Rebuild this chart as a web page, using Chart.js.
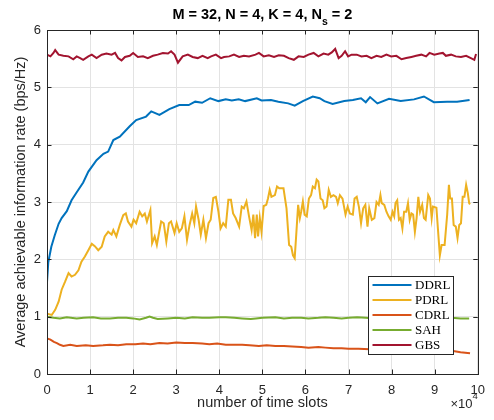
<!DOCTYPE html>
<html>
<head>
<meta charset="utf-8">
<script src="https://cdn.jsdelivr.net/npm/chart.js@4"></script>
<style>
  html, body { margin: 0; padding: 0; background: #fff; }
</style>
</head>
<body>
<canvas id="chart" width="494" height="420"></canvas>
<script>
// values, x in units of 10^4 time slots
const seriesNames = ["DDRL", "PDRL", "CDRL", "SAH", "GBS"];
const seriesColors = ["#0072BD", "#EDB120", "#D95319", "#77AC30", "#A2142F"];
const xTickValues = [0, 1, 2, 3, 4, 5, 6, 7, 8, 9, 10];
const yTickValues = [0, 1, 2, 3, 4, 5, 6];

const ddrl = [[0, 1.6], [0.03, 1.95], [0.1, 2.22], [0.18, 2.42], [0.27, 2.62], [0.34, 2.72], [0.46, 2.84],
  [0.57, 3.03], [0.69, 3.17], [0.84, 3.34], [0.96, 3.53], [1.15, 3.73], [1.31, 3.84], [1.42, 3.88],
  [1.54, 4.08], [1.69, 4.14], [1.92, 4.32], [2.07, 4.43], [2.3, 4.49], [2.42, 4.58], [2.61, 4.52],
  [2.84, 4.62], [3.07, 4.69], [3.29, 4.69], [3.44, 4.75], [3.6, 4.73], [3.79, 4.81], [3.98, 4.76],
  [4.15, 4.79], [4.29, 4.77], [4.45, 4.79], [4.6, 4.76], [4.87, 4.81], [4.98, 4.77], [5.2, 4.78],
  [5.37, 4.75], [5.6, 4.72], [5.75, 4.68], [5.94, 4.76], [6.17, 4.84], [6.33, 4.81], [6.44, 4.76],
  [6.63, 4.71], [6.9, 4.76], [7.1, 4.78], [7.29, 4.81], [7.4, 4.74], [7.5, 4.83], [7.67, 4.72],
  [7.94, 4.8], [8.21, 4.76], [8.52, 4.79], [8.75, 4.84], [8.98, 4.74], [9.29, 4.75], [9.52, 4.75],
  [9.81, 4.78]];

const pdrl = [[0, 1.05], [0.11, 1.03], [0.19, 1.12], [0.27, 1.26], [0.34, 1.47], [0.42, 1.61], [0.5, 1.76],
  [0.57, 1.7], [0.65, 1.73], [0.73, 1.81], [0.8, 1.96], [0.88, 2.05], [0.96, 2.16], [1.04, 2.27],
  [1.11, 2.23], [1.19, 2.16], [1.27, 2.22], [1.34, 2.4], [1.42, 2.48], [1.5, 2.43], [1.54, 2.51],
  [1.61, 2.4], [1.69, 2.6], [1.77, 2.77], [1.83, 2.8], [1.88, 2.66], [1.96, 2.57], [2.01, 2.69],
  [2.07, 2.63], [2.15, 2.83], [2.21, 2.75], [2.27, 2.8], [2.32, 2.66], [2.4, 2.86], [2.44, 2.28],
  [2.5, 2.4], [2.55, 2.25], [2.6, 2.46], [2.65, 2.66], [2.71, 2.63], [2.77, 2.31], [2.83, 2.63],
  [2.88, 2.66], [2.96, 2.46], [3.01, 2.63], [3.07, 2.48], [3.13, 2.54], [3.19, 2.75], [3.25, 2.34],
  [3.31, 2.6], [3.37, 2.8], [3.42, 2.63], [3.46, 2.92], [3.52, 2.69], [3.57, 2.43], [3.63, 2.69],
  [3.69, 2.37], [3.75, 2.63], [3.8, 2.69], [3.86, 3.07], [3.92, 3.09], [3.98, 2.83], [4.03, 2.54],
  [4.09, 2.63], [4.15, 2.57], [4.21, 3.04], [4.27, 3.04], [4.32, 2.8], [4.38, 2.72], [4.46, 2.57],
  [4.52, 2.92], [4.57, 2.89], [4.63, 3.01], [4.69, 2.75], [4.75, 2.51], [4.79, 2.78], [4.83, 2.37],
  [4.87, 2.78], [4.9, 2.4], [4.94, 2.72], [4.98, 2.48], [5.03, 2.93], [5.09, 2.95], [5.13, 3.06],
  [5.17, 3.21], [5.21, 3.09], [5.29, 3.12], [5.34, 3.27], [5.39, 3.24], [5.49, 3.24], [5.56, 2.89],
  [5.62, 2.25], [5.67, 2.22], [5.71, 2.07], [5.75, 2.02], [5.79, 2.48], [5.83, 2.95], [5.87, 2.72],
  [5.9, 2.83], [5.94, 3.01], [5.98, 2.78], [6.03, 2.75], [6.08, 3.06], [6.13, 3.12], [6.17, 3.27],
  [6.22, 3.24], [6.26, 3.39], [6.3, 3.36], [6.35, 3.06], [6.4, 3.03], [6.44, 2.89], [6.49, 2.92],
  [6.54, 3.21], [6.59, 3.09], [6.65, 3.12], [6.71, 3.09], [6.75, 2.98], [6.8, 3.12], [6.86, 3.06],
  [6.93, 2.78], [6.98, 2.92], [7.03, 2.8], [7.1, 2.78], [7.14, 3.06], [7.19, 3.09], [7.24, 2.92],
  [7.29, 2.63], [7.34, 2.89], [7.39, 2.95], [7.44, 2.57], [7.48, 2.89], [7.54, 2.69], [7.6, 2.72],
  [7.65, 3.0], [7.7, 2.95], [7.74, 3.12], [7.77, 2.98], [7.83, 2.95], [7.88, 2.83], [7.93, 2.75],
  [7.98, 2.69], [8.02, 2.83], [8.06, 2.75], [8.09, 2.98], [8.13, 3.03], [8.17, 2.69], [8.21, 2.72],
  [8.25, 2.54], [8.29, 2.83], [8.34, 2.83], [8.38, 2.98], [8.42, 2.69], [8.46, 2.8], [8.5, 2.78],
  [8.54, 2.48], [8.58, 2.72], [8.62, 3.09], [8.66, 2.83], [8.71, 2.95], [8.75, 2.72], [8.79, 2.69],
  [8.85, 3.12], [8.89, 3.06], [8.93, 2.72], [8.96, 2.92], [9.04, 2.9], [9.08, 2.48], [9.12, 2.07],
  [9.16, 2.25], [9.23, 2.25], [9.29, 2.78], [9.33, 3.3], [9.36, 3.06], [9.4, 3.06], [9.44, 2.6],
  [9.49, 2.57], [9.53, 2.37], [9.57, 2.6], [9.61, 2.63], [9.65, 3.09], [9.69, 3.09], [9.73, 3.3],
  [9.77, 3.15], [9.8, 2.98], [9.82, 2.96]];

const cdrl = [[0, 0.62], [0.08, 0.6], [0.16, 0.56], [0.23, 0.54], [0.3, 0.51], [0.38, 0.49], [0.54, 0.51],
  [0.69, 0.49], [0.9, 0.5], [1.07, 0.49], [1.3, 0.5], [1.46, 0.51], [1.65, 0.5], [1.84, 0.52],
  [2.05, 0.52], [2.23, 0.53], [2.4, 0.52], [2.61, 0.54], [2.8, 0.53], [3.0, 0.55], [3.2, 0.54],
  [3.38, 0.54], [3.6, 0.53], [3.77, 0.52], [3.95, 0.53], [4.15, 0.51], [4.35, 0.51], [4.53, 0.51],
  [4.7, 0.5], [4.92, 0.49], [5.1, 0.5], [5.3, 0.49], [5.5, 0.49], [5.69, 0.48], [5.9, 0.47],
  [6.07, 0.46], [6.3, 0.47], [6.46, 0.46], [6.65, 0.45], [6.84, 0.45], [7.0, 0.44], [7.23, 0.44],
  [7.5, 0.43], [7.8, 0.43], [8.0, 0.42], [8.3, 0.42], [8.6, 0.41], [9.0, 0.41], [9.36, 0.41],
  [9.6, 0.38], [9.82, 0.36]];

const sah = [[0, 1.0], [0.15, 0.98], [0.3, 0.97], [0.46, 0.99], [0.69, 0.97], [0.85, 0.98], [1.07, 0.99],
  [1.25, 0.97], [1.46, 0.97], [1.65, 0.98], [1.84, 0.98], [2.0, 0.97], [2.15, 0.95], [2.3, 0.98],
  [2.38, 1.0], [2.46, 0.98], [2.57, 0.96], [2.8, 0.97], [3.0, 0.98], [3.2, 0.97], [3.38, 0.99],
  [3.6, 0.98], [3.77, 0.98], [4.0, 0.99], [4.15, 0.99], [4.35, 0.98], [4.53, 0.97], [4.73, 0.96],
  [4.85, 0.97], [5.0, 0.98], [5.3, 0.99], [5.5, 0.97], [5.69, 0.98], [5.9, 0.98], [6.07, 0.97],
  [6.3, 0.98], [6.46, 0.99], [6.65, 0.98], [6.84, 0.97], [7.0, 0.98], [7.2, 0.99], [7.4, 0.98],
  [7.6, 0.97], [7.8, 0.98], [8.0, 0.99], [8.2, 0.98], [8.4, 0.97], [8.6, 0.98], [8.8, 0.98],
  [9.0, 0.97], [9.2, 0.98], [9.4, 0.98], [9.6, 0.97], [9.8, 0.97]];

const gbs = [[0, 5.57], [0.08, 5.54], [0.15, 5.6], [0.19, 5.65], [0.27, 5.57], [0.38, 5.55], [0.5, 5.54],
  [0.61, 5.49], [0.69, 5.54], [0.77, 5.51], [0.84, 5.48], [0.96, 5.54], [1.04, 5.57], [1.15, 5.51],
  [1.27, 5.57], [1.38, 5.59], [1.5, 5.57], [1.58, 5.6], [1.65, 5.51], [1.73, 5.47], [1.81, 5.53],
  [1.92, 5.55], [2.0, 5.6], [2.11, 5.53], [2.23, 5.54], [2.34, 5.51], [2.46, 5.55], [2.57, 5.57],
  [2.69, 5.6], [2.81, 5.59], [2.88, 5.63], [2.96, 5.57], [3.04, 5.43], [3.15, 5.54], [3.27, 5.57],
  [3.38, 5.53], [3.5, 5.51], [3.61, 5.55], [3.73, 5.51], [3.81, 5.54], [3.92, 5.57], [4.04, 5.51],
  [4.11, 5.53], [4.23, 5.54], [4.34, 5.57], [4.46, 5.53], [4.57, 5.55], [4.69, 5.54], [4.84, 5.57],
  [4.92, 5.6], [5.03, 5.54], [5.15, 5.56], [5.27, 5.53], [5.38, 5.56], [5.5, 5.55], [5.61, 5.51],
  [5.73, 5.48], [5.84, 5.54], [5.96, 5.53], [6.07, 5.57], [6.19, 5.6], [6.3, 5.54], [6.42, 5.59],
  [6.53, 5.57], [6.61, 5.61], [6.69, 5.67], [6.77, 5.51], [6.84, 5.55], [6.92, 5.63], [6.99, 5.54],
  [7.07, 5.57], [7.19, 5.57], [7.3, 5.54], [7.42, 5.55], [7.53, 5.51], [7.65, 5.55], [7.76, 5.53],
  [7.88, 5.57], [7.99, 5.54], [8.11, 5.55], [8.23, 5.49], [8.34, 5.51], [8.46, 5.53], [8.57, 5.55],
  [8.69, 5.57], [8.8, 5.54], [8.88, 5.6], [8.99, 5.57], [9.11, 5.59], [9.19, 5.6], [9.26, 5.55],
  [9.38, 5.57], [9.49, 5.54], [9.61, 5.53], [9.73, 5.55], [9.84, 5.51], [9.92, 5.48], [9.96, 5.58]];

const seriesData = [ddrl, pdrl, cdrl, sah, gbs];

const axisColor = "#262626";
const sansFont = "'Liberation Sans', Arial, sans-serif";
const serifFont = "'Liberation Serif', 'Times New Roman', serif";

// title with a subscript, drawn by hand since Chart.js titles are plain strings
const titlePlugin = {
  id: "subTitle",
  afterDraw(chart) {
    const ctx = chart.ctx;
    const area = chart.chartArea;
    const head = "M = 32, N = 4, K = 4, N";
    const sub = "s";
    const tail = " = 2";
    ctx.save();
    ctx.fillStyle = "#000";
    ctx.textBaseline = "alphabetic";
    ctx.textAlign = "left";
    ctx.font = "bold 14.5px " + sansFont;
    const w1 = ctx.measureText(head).width;
    const w3 = ctx.measureText(tail).width;
    ctx.font = "bold 10.5px " + sansFont;
    const w2 = ctx.measureText(sub).width;
    let x = (area.left + area.right) / 2 - (w1 + w2 + w3) / 2;
    ctx.font = "bold 14.5px " + sansFont;
    ctx.fillText(head, x, 18.5);
    x += w1;
    ctx.font = "bold 10.5px " + sansFont;
    ctx.fillText(sub, x, 24.5);
    x += w2;
    ctx.font = "bold 14.5px " + sansFont;
    ctx.fillText(tail, x, 18.5);
    ctx.restore();
  }
};

// box, inward tick marks, exponent label and legend
const framePlugin = {
  id: "frame",
  afterDatasetsDraw(chart) {
    const ctx = chart.ctx;
    const { left, right, top, bottom } = chart.chartArea;
    const xScale = chart.scales.x;
    const yScale = chart.scales.y;
    const tickLen = 4.5;
    ctx.save();
    ctx.strokeStyle = axisColor;
    ctx.lineWidth = 1;
    ctx.beginPath();
    xTickValues.forEach((v) => {
      const px = Math.round(xScale.getPixelForValue(v)) + 0.5;
      ctx.moveTo(px, bottom);
      ctx.lineTo(px, bottom - tickLen);
      ctx.moveTo(px, top);
      ctx.lineTo(px, top + tickLen);
    });
    yTickValues.forEach((v) => {
      const py = Math.round(yScale.getPixelForValue(v)) + 0.5;
      ctx.moveTo(left, py);
      ctx.lineTo(left + tickLen, py);
      ctx.moveTo(right, py);
      ctx.lineTo(right - tickLen, py);
    });
    ctx.stroke();
    ctx.strokeRect(Math.round(left) + 0.5, Math.round(top) + 0.5, Math.round(right - left), Math.round(bottom - top));

    // x10^4 exponent
    ctx.fillStyle = axisColor;
    ctx.textBaseline = "alphabetic";
    ctx.textAlign = "left";
    ctx.font = "13px " + sansFont;
    const wTimes = ctx.measureText("\u00d710").width;
    ctx.font = "9.5px " + sansFont;
    const wExp = ctx.measureText("4").width;
    const ex = right - wTimes - wExp;
    ctx.font = "13px " + sansFont;
    ctx.fillText("\u00d710", ex, 408);
    ctx.font = "9.5px " + sansFont;
    ctx.fillText("4", ex + wTimes, 398.5);

    // legend box in the lower right corner
    const boxX = 368.5, boxY = 276.5, boxW = 85, boxH = 78;
    ctx.fillStyle = "#fff";
    ctx.fillRect(boxX, boxY, boxW, boxH);
    ctx.strokeStyle = axisColor;
    ctx.strokeRect(boxX, boxY, boxW, boxH);
    ctx.font = "13px " + serifFont;
    ctx.textBaseline = "middle";
    chart.data.datasets.forEach((ds, i) => {
      const rowY = 285 + i * 15;
      ctx.strokeStyle = ds.borderColor;
      ctx.lineWidth = 2;
      ctx.beginPath();
      ctx.moveTo(372.5, rowY);
      ctx.lineTo(411.5, rowY);
      ctx.stroke();
      ctx.fillStyle = "#000";
      ctx.fillText(ds.label, 415, rowY + 0.5);
    });
    ctx.restore();
  }
};

new Chart(document.getElementById("chart"), {
  type: "line",
  data: {
    datasets: seriesData.map((points, index) => ({
      label: seriesNames[index],
      data: points.map(([x, y]) => ({ x, y })),
      borderColor: seriesColors[index],
      backgroundColor: seriesColors[index],
      borderWidth: 2,
      pointRadius: 0,
      tension: 0,
      fill: false,
      order: seriesNames.length - index
    }))
  },
  options: {
    responsive: false,
    animation: false,
    devicePixelRatio: 1,
    layout: { padding: { top: 30, right: 13, left: 0, bottom: 0 } },
    plugins: {
      legend: { display: false },
      tooltip: { enabled: false },
      title: { display: false }
    },
    scales: {
      x: {
        type: "linear",
        min: 0,
        max: 10,
        afterFit: (scale) => { scale.height = 46; },
        afterBuildTicks: (scale) => { scale.ticks = xTickValues.map((v) => ({ value: v })); },
        ticks: { color: axisColor, padding: 9, maxRotation: 0, font: { family: sansFont, size: 13 } },
        grid: { color: "#e3e3e3", drawTicks: false },
        border: { display: false },
        title: {
          display: true,
          text: "number of time slots",
          color: axisColor,
          font: { family: sansFont, size: 14.5 },
          padding: { top: 0, bottom: 8 }
        }
      },
      y: {
        type: "linear",
        min: 0,
        max: 6,
        afterFit: (scale) => { scale.width = 47; },
        afterBuildTicks: (scale) => { scale.ticks = yTickValues.map((v) => ({ value: v })); },
        ticks: { color: axisColor, padding: 6, font: { family: sansFont, size: 13 } },
        grid: { color: "#e3e3e3", drawTicks: false },
        border: { display: false },
        title: {
          display: true,
          text: "Average achievable information rate (bps/Hz)",
          color: axisColor,
          font: { family: sansFont, size: 14.5 },
          padding: { top: 12, bottom: 0 }
        }
      }
    }
  },
  plugins: [titlePlugin, framePlugin]
});
</script>
</body>
</html>
